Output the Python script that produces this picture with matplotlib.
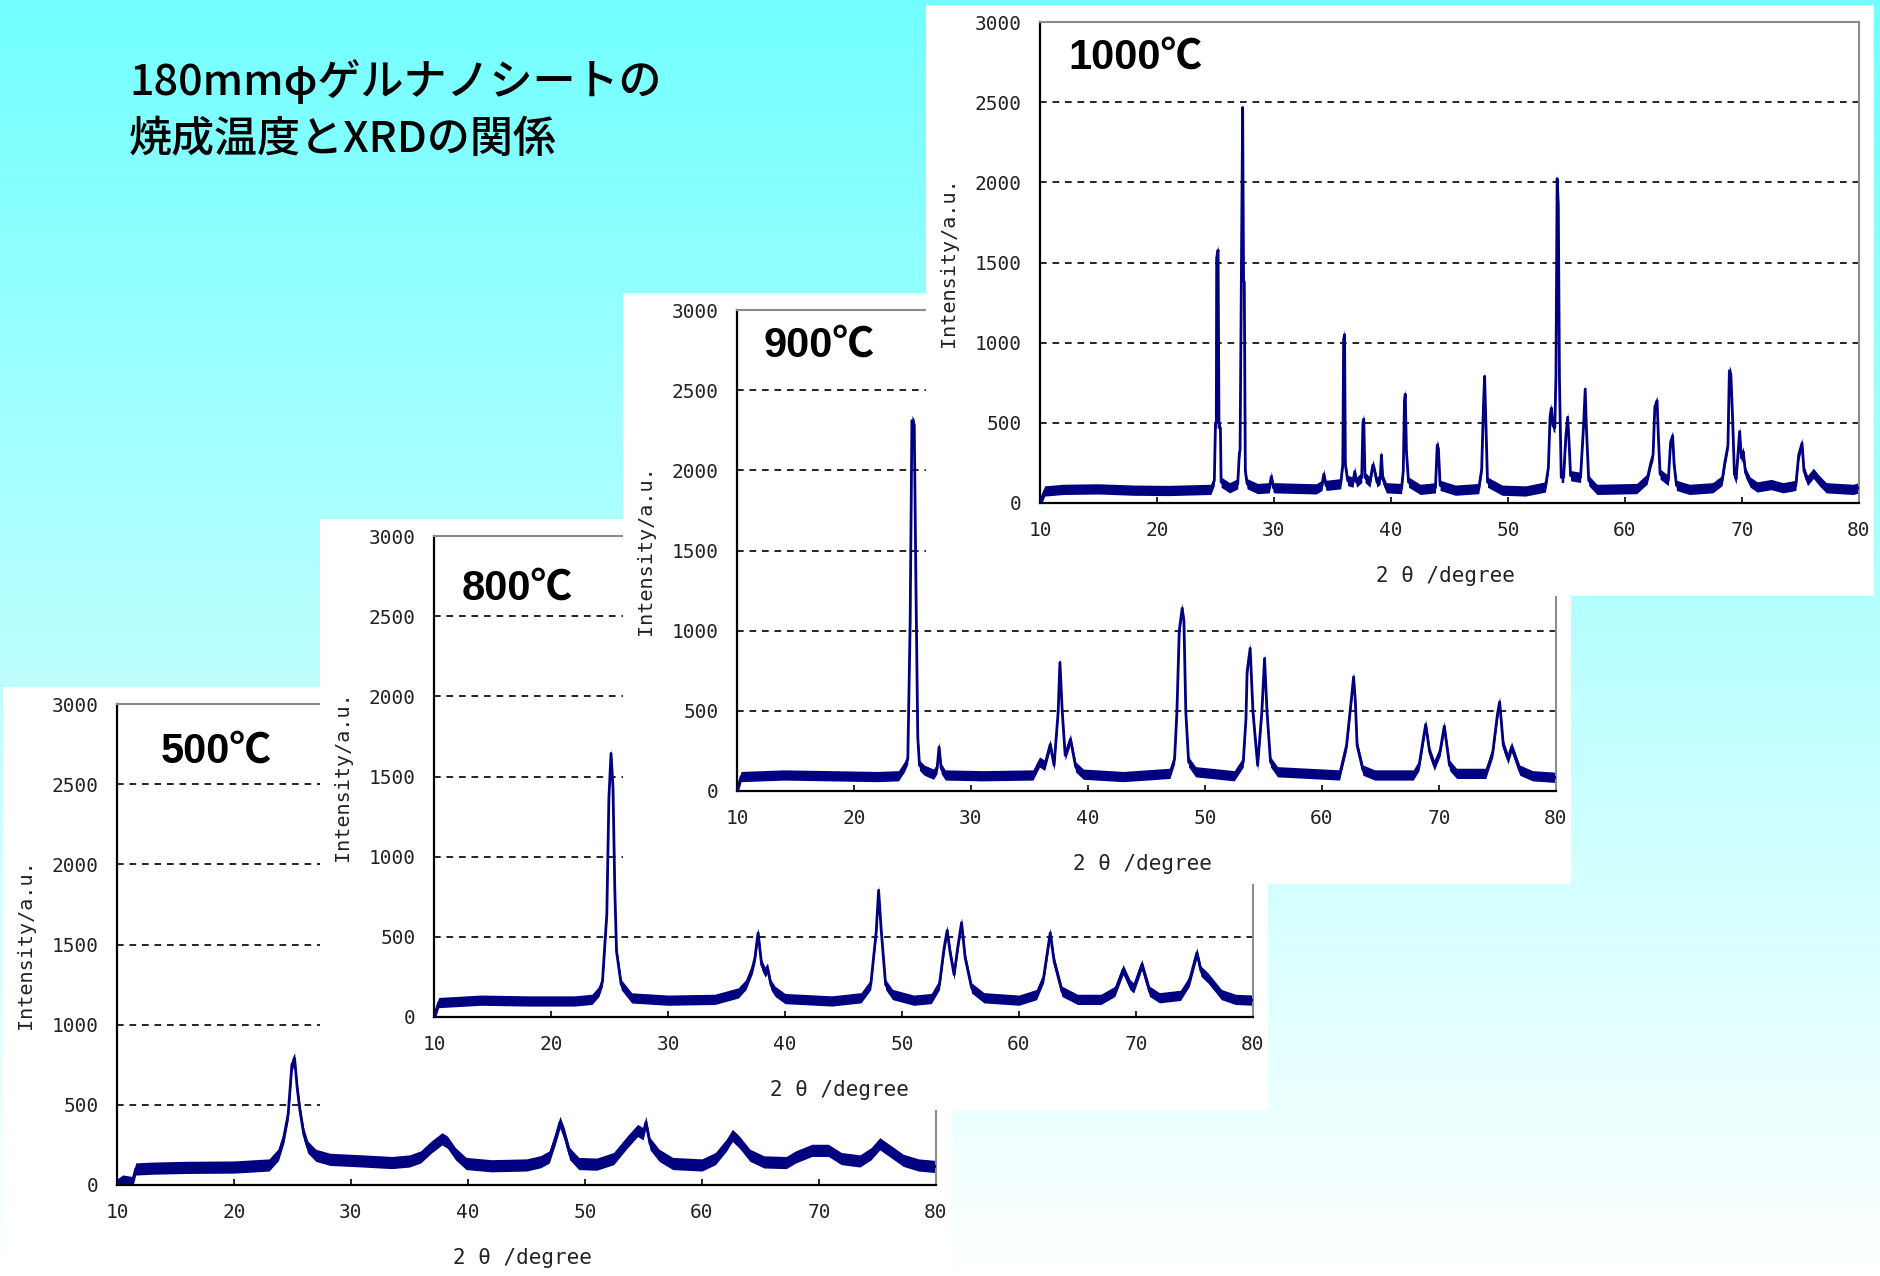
import numpy as np
import matplotlib
matplotlib.use("Agg")
import matplotlib.pyplot as plt

# ---------------------------------------------------------------
# XRD profiles of the titania nanosheet film after firing,
# traced as (2θ [deg], intensity [a.u.]) vertices
# ---------------------------------------------------------------
profile_500 = [
    (10.0, 0), (10.5, 25), (11.3, 15), (11.6, 100), (13, 105), (16, 110), (20, 112),
    (23, 125), (23.8, 190), (24.26, 298), (24.63, 442), (24.95, 751), (25.18, 788),
    (25.4, 607), (25.64, 463), (25.96, 319), (26.3, 237), (27.0, 185), (28.2, 160),
    (31, 150), (33.5, 140), (35.0, 150), (35.95, 175), (36.87, 237), (37.78, 288),
    (38.24, 267), (38.93, 195), (39.84, 134), (42, 120), (45, 125), (46.2, 145),
    (46.95, 175), (47.5, 298), (47.86, 391), (48.23, 319), (48.69, 195), (49.47, 134),
    (51, 130), (52.45, 165), (53.6, 267), (54.5, 340), (54.97, 319), (55.2, 391),
    (55.56, 257), (56.34, 185), (57.5, 134), (60, 125), (61.15, 165), (62.07, 247),
    (62.6, 309), (63.2, 267), (64.1, 185), (65.3, 144), (67.2, 140), (68.0, 175),
    (69.4, 216), (70.8, 216), (71.9, 165), (73.5, 150), (74.45, 195), (75.2, 257),
    (76.0, 216), (77.2, 154), (78.5, 125), (80.0, 115),
]

profile_800 = [
    (10.0, 0), (10.4, 90), (14, 105), (18, 100), (22, 100), (23.5, 110), (24.1, 160),
    (24.4, 223), (24.77, 640), (24.95, 1369), (25.13, 1644), (25.3, 1431), (25.45, 806),
    (25.6, 410), (26.0, 202), (26.9, 119), (30, 105), (34, 110), (36.0, 150),
    (36.66, 202), (37.2, 300), (37.43, 369), (37.7, 525), (38.0, 327), (38.3, 280),
    (38.5, 306), (38.8, 200), (39.15, 160), (40.0, 115), (44, 100), (46.5, 120),
    (47.33, 202), (47.8, 535), (48.0, 790), (48.23, 535), (48.6, 202), (49.2, 140),
    (51, 105), (52.5, 115), (53.2, 202), (53.6, 431), (53.86, 540), (54.1, 410),
    (54.45, 265), (54.8, 452), (55.09, 588), (55.4, 369), (55.95, 181), (57, 120),
    (60, 105), (61.5, 140), (62.1, 244), (62.67, 525), (63.0, 348), (63.67, 160),
    (65, 110), (67, 110), (68.2, 160), (68.9, 296), (69.48, 202), (69.8, 181),
    (70.5, 327), (71.16, 160), (72, 120), (73.8, 135), (74.56, 223), (75.2, 400),
    (75.56, 285), (76.15, 244), (77.3, 140), (78.5, 110), (80.0, 105),
]

profile_900 = [
    (10.0, 0), (10.35, 90), (14, 100), (18, 95), (22, 90), (23.8, 95), (24.3, 150),
    (24.6, 200), (24.8, 1056), (24.95, 2310), (25.15, 2285), (25.3, 1244), (25.45, 337),
    (25.6, 160), (26.0, 130), (26.8, 105), (27.1, 140), (27.27, 275), (27.45, 140),
    (27.8, 100), (31, 95), (35.3, 100), (35.86, 181), (36.3, 160), (36.77, 290),
    (37.1, 160), (37.45, 494), (37.6, 802), (37.8, 494), (38.05, 223), (38.5, 323),
    (38.95, 150), (39.6, 105), (43, 90), (47.0, 110), (47.4, 200), (47.6, 494),
    (47.8, 1000), (48.05, 1140), (48.2, 1056), (48.36, 494), (48.6, 181), (49.2, 120),
    (52.5, 95), (53.27, 181), (53.5, 450), (53.6, 744), (53.86, 890), (54.1, 494),
    (54.5, 160), (54.86, 494), (55.09, 827), (55.3, 494), (55.6, 181), (56.2, 120),
    (61.5, 100), (62.1, 285), (62.55, 600), (62.7, 712), (62.85, 560), (63.0, 285),
    (63.5, 130), (64.5, 100), (67.8, 100), (68.3, 160), (68.86, 415), (69.2, 244),
    (69.6, 160), (70.1, 250), (70.45, 404), (70.9, 160), (71.5, 110), (74.0, 110),
    (74.6, 244), (75.0, 480), (75.18, 556), (75.5, 285), (75.9, 200), (76.2, 275),
    (76.9, 130), (78, 95), (80.0, 85),
]

profile_1000 = [
    (10.0, 0), (10.4, 75), (12, 85), (15, 88), (18, 80), (21, 78), (24.6, 85),
    (24.9, 140), (25.0, 500), (25.07, 500), (25.1, 1530), (25.22, 1577), (25.3, 470),
    (25.42, 470), (25.48, 130), (26.2, 95), (26.9, 120), (27.04, 310), (27.1, 330),
    (27.2, 1330), (27.32, 2467), (27.4, 1380), (27.46, 1380), (27.55, 200), (27.7, 120),
    (28.6, 90), (29.6, 95), (29.77, 165), (29.95, 95), (33.6, 88), (34.1, 110),
    (34.25, 180), (34.45, 110), (35.7, 120), (35.88, 240), (35.95, 1020), (36.03, 1050),
    (36.1, 240), (36.3, 140), (36.75, 130), (36.9, 196), (37.05, 130), (37.5, 160),
    (37.6, 500), (37.67, 523), (37.78, 160), (38.2, 130), (38.45, 237), (38.6, 200),
    (38.8, 130), (39.08, 150), (39.18, 300), (39.3, 150), (39.6, 95), (40.9, 90),
    (41.05, 200), (41.15, 640), (41.22, 679), (41.32, 320), (41.5, 130), (42.5, 85),
    (43.8, 95), (43.95, 362), (44.05, 340), (44.2, 110), (45.5, 80), (47.5, 90),
    (47.75, 210), (47.9, 600), (48.0, 790), (48.1, 530), (48.25, 130), (49.5, 80),
    (51.5, 75), (53.2, 100), (53.45, 220), (53.6, 540), (53.7, 592), (53.85, 480),
    (54.0, 470), (54.1, 800), (54.2, 2023), (54.3, 1862), (54.4, 760), (54.55, 160),
    (54.75, 160), (54.95, 420), (55.1, 535), (55.22, 380), (55.35, 170), (56.2, 160),
    (56.45, 470), (56.6, 710), (56.7, 470), (56.9, 140), (57.6, 85), (61.0, 90),
    (61.9, 150), (62.2, 248), (62.4, 300), (62.55, 600), (62.74, 637), (62.85, 420),
    (63.0, 180), (63.7, 140), (63.9, 380), (64.07, 419), (64.2, 240), (64.4, 110),
    (65.5, 85), (67.5, 95), (68.3, 140), (68.55, 260), (68.8, 360), (68.92, 825),
    (69.05, 800), (69.2, 520), (69.35, 180), (69.5, 150), (69.7, 350), (69.8, 446),
    (69.95, 280), (70.1, 320), (70.3, 190), (70.7, 130), (71.3, 100), (72.5, 115),
    (73.5, 95), (74.6, 110), (74.85, 300), (75.13, 373), (75.3, 200), (75.6, 140),
    (76.1, 185), (76.6, 140), (77.2, 95), (79.5, 85), (80.0, 95),
]

# counting-noise half-width of each scan (a.u.)
noise_500, noise_800, noise_900, noise_1000 = 38, 32, 32, 32

temperatures = ["500℃", "800℃", "900℃", "1000℃"]
x_ticks = [10, 20, 30, 40, 50, 60, 70, 80]
y_ticks = [0, 500, 1000, 1500, 2000, 2500, 3000]
title_lines = ["180mmφゲルナノシートの", "焼成温度とXRDの関係"]

# ---------------------------------------------------------------
W, H = 1881, 1276
NAVY = "#000080"
plt.rcParams["font.family"] = ["DejaVu Sans Mono"]

fig = plt.figure(figsize=(W / 100, H / 100), dpi=100)

# slide background: cyan fading to white downwards
bg = fig.add_axes([0, 0, 1, 1], zorder=0)
t = np.linspace(0, 1, 512)[:, None, None]
top_rgb = np.array([0.45, 1.0, 1.0])
bot_rgb = np.array([1.0, 1.0, 1.0])
bg.imshow(top_rgb + (bot_rgb - top_rgb) * t, aspect="auto", extent=[0, 1, 0, 1])
bg.set_axis_off()

# slide title
for i, line in enumerate(title_lines):
    fig.text(129 / W, 1 - (82 + 57 * i) / H, line, fontsize=31, fontweight="medium",
             family=["Noto Sans CJK JP", "DejaVu Sans"], color="black",
             va="center", ha="left", zorder=1)

# stacked panels (pixel geometry of each card)
CARD_W, CARD_H = 948, 591
AX_DX, AX_DY, AX_W, AX_H = 114, 17, 819, 481
cards = [(3, 687), (320, 519), (623, 293), (926, 5)]
label_pos = [(0.053, 0.900), (0.034, 0.890), (0.032, 0.925), (0.035, 0.925)]
profiles = [profile_500, profile_800, profile_900, profile_1000]
noises = [noise_500, noise_800, noise_900, noise_1000]

for k, (label, prof, noise, (px, py), (lx, ly)) in enumerate(
        zip(temperatures, profiles, noises, cards, label_pos)):
    card = fig.add_axes([px / W, 1 - (py + CARD_H) / H, CARD_W / W, CARD_H / H],
                        zorder=2 + 2 * k)
    card.set_facecolor("white")
    card.set_xticks([])
    card.set_yticks([])
    for s in card.spines.values():
        s.set_visible(False)

    ax = fig.add_axes([(px + AX_DX) / W, 1 - (py + AX_DY + AX_H) / H, AX_W / W, AX_H / H],
                      zorder=3 + 2 * k)
    ax.set_facecolor("white")
    tt = np.array([p[0] for p in prof])
    ii = np.array([p[1] for p in prof], dtype=float)

    for yv in y_ticks[1:-1]:
        ax.axhline(yv, color="black", lw=1.2, ls=(0, (4, 3.5)), zorder=1)

    ax.fill_between(tt, ii - noise, ii + noise, color=NAVY, lw=0, zorder=2)
    ax.plot(tt, ii, color=NAVY, lw=2.0, zorder=3)

    ax.set_xlim(10, 80)
    ax.set_ylim(0, 3000)
    ax.set_xticks(x_ticks)
    ax.set_yticks(y_ticks)

    ax.spines["left"].set(color="black", lw=1.6)
    ax.spines["bottom"].set(color="black", lw=1.6)
    ax.spines["top"].set(color="#8c8c8c", lw=1.5)
    ax.spines["right"].set(color="#8c8c8c", lw=1.5)
    ax.tick_params(axis="x", direction="in", length=4, width=1.2, pad=13,
                   labelsize=14, labelcolor="#222222")
    ax.tick_params(axis="y", length=0, pad=13, labelsize=14, labelcolor="#222222")

    ax.set_ylabel("Intensity/a.u.", fontsize=14.5, color="#222222")
    ax.yaxis.label.set_va("center")
    ax.yaxis.set_label_coords(-0.112, 0.5)
    ax.set_xlabel("2 θ /degree", fontsize=15, color="#222222")
    ax.xaxis.label.set_va("center")
    ax.xaxis.set_label_coords(0.495, -0.152)

    ax.text(lx, ly, label, transform=ax.transAxes, ha="left", va="center",
            fontsize=30, fontweight="bold",
            family=["Liberation Sans", "Noto Sans CJK JP"], color="black", zorder=5)

fig.savefig("out.png", dpi=100)
